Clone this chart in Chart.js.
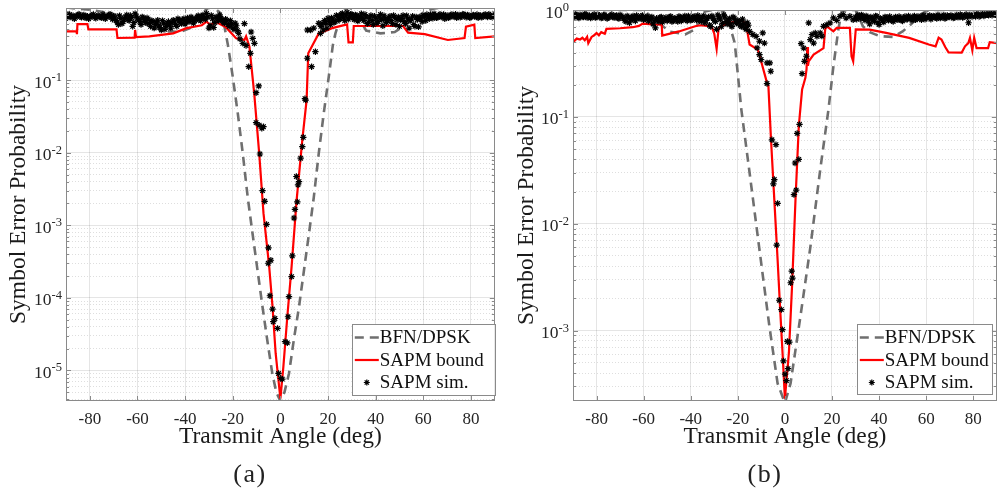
<!DOCTYPE html>
<html>
<head>
<meta charset="utf-8">
<script src="https://cdn.jsdelivr.net/npm/chart.js@4/dist/chart.umd.min.js"></script>
<style>
  body { margin: 0; width: 1002px; height: 498px; background: #fff; position: relative; overflow: hidden; }
  .panel { position: absolute; top: 0; }
  .cap { position: absolute; top: 459px; height: 26px; line-height: 26px; font: 26px "Liberation Serif", serif; letter-spacing: 1.5px; color: #222; transform: translateX(-50%); }
</style>
</head>
<body>
<div class="panel" style="left:0;width:500px;height:460px"><canvas id="chartA" width="500" height="460"></canvas></div>
<div class="panel" style="left:500px;width:502px;height:460px"><canvas id="chartB" width="502" height="460"></canvas></div>
<div class="cap" style="left:250px">(a)</div>
<div class="cap" style="left:765px">(b)</div>
<script>
// ---- axis ticks ----
const angleTicks = [-80, -60, -40, -20, 0, 20, 40, 60, 80];
const decadesA = [1e-5, 1e-4, 1e-3, 1e-2, 1e-1];
const decadesB = [1e-3, 1e-2, 1e-1, 1];

// ---- panel (a) ----
// BFN/DPSK (dashed gray)
const bfnA = [[-90,1.0],[-80,0.93],[-71,0.83],[-62,0.68],[-54,0.54],[-48,0.47],[-42,0.46],[-38,0.52],[-35,0.66],
  [-32.5,0.85],[-30.5,0.98],[-29,1.0],[-27.5,0.97],[-25.5,0.85],[-23.5,0.55],[-22,0.3],[-20,0.111],[-17.9,0.035],
  [-15.8,0.0098],[-13.7,2.4e-3],[-11.7,7.7e-4],[-9.6,2.4e-4],[-7.5,7.5e-5],[-5.5,2.6e-5],[-3.4,9.1e-6],[-1.7,5e-6],
  [0,3.8e-6],[1.7,5e-6],[3.6,9.1e-6],[5.6,2.6e-5],[7.8,7.5e-5],[9.9,2.4e-4],[12,7.7e-4],[14,2.4e-3],[16.1,0.0098],
  [18.2,0.035],[20.3,0.111],[22,0.3],[23.1,0.44],[25.8,0.83],[27.2,0.97],[29,1.0],[31,0.9],[33.5,0.67],[36,0.48],
  [42,0.44],[48,0.46],[52,0.56],[56,0.7],[60,0.85],[64,0.96],[68,1.0],[90,1.0]];

// SAPM bound (red)
const boundA = [[-90,0.47],[-85.6,0.47],[-85.4,0.43],[-85.2,0.59],[-81,0.59],[-80.6,0.50],[-68.8,0.50],[-68.4,0.38],
  [-61.2,0.385],[-61,0.49],[-60.6,0.39],[-55,0.40],[-45,0.44],[-39.4,0.52],[-33,0.57],[-31,0.64],[-29.5,0.575],
  [-27,0.63],[-23,0.54],[-18.6,0.376],[-15.1,0.357],[-14.4,0.40],[-13.0,0.288],[-11.0,0.066],[-8.9,0.0098],
  [-7.1,1.47e-3],[-4.7,2.7e-4],[-3.3,7.5e-5],[-2.0,1.73e-5],[0,4.1e-6],[1.25,1.13e-5],[2.9,5.5e-5],[4.7,2.7e-4],
  [6.8,2.2e-3],[9.2,0.015],[11.0,0.053],[11.7,0.234],[16.1,0.44],[21.7,0.52],[28,0.586],[28.6,0.33],[30.4,0.33],
  [30.8,0.556],[51.5,0.556],[53.6,0.45],[60.6,0.43],[70.3,0.357],[77.3,0.38],[77.9,0.545],[81.4,0.58],[81.8,0.38],
  [90,0.40]];

// SAPM sim. (black asterisks)
const simA_left = [[-90,0.76],[-89,0.78],[-88,0.74],[-87,0.77],[-86,0.73],[-85,0.79],[-84,0.75],[-83,0.77],[-82,0.72],
  [-81,0.76],[-80,0.74],[-79,0.78],[-78,0.73],[-77,0.76],[-76,0.75],[-75,0.72],[-74,0.77],[-73,0.74],[-72,0.79],
  [-71,0.73],[-70,0.76],[-69,0.66],[-68,0.58],[-67,0.71],[-66,0.64],[-65,0.74],[-64,0.69],[-63,0.78],[-62,0.55],
  [-61,0.82],[-60,0.70],[-59,0.64],[-58,0.74],[-57,0.67],[-56,0.72],[-55,0.60],[-54,0.66],[-53,0.52],[-52,0.63],
  [-51,0.57],[-50,0.49],[-49,0.61],[-48,0.55],[-47,0.64],[-46,0.52],[-45,0.67],[-44,0.58],[-43,0.70],[-42,0.62],
  [-41,0.68],[-40,0.59],[-39,0.72],[-38,0.64],[-37,0.70],[-36,0.66],[-35,0.74],[-34,0.68],[-33,0.76],[-32,0.71],
  [-31,0.83],[-30,0.52],[-29,0.78],[-28,0.53],[-27,0.74],[-26,0.66],[-25,0.71],[-24,0.63],[-23,0.69],[-22,0.58],
  [-21,0.66],[-20,0.52],[-19,0.61],[-18,0.48],[-17,0.37]];
const simA_leftHalf = [[-89.5,0.72],[-88.5,0.80],[-87.5,0.75],[-86.5,0.70],[-85.5,0.77],[-84.5,0.81],[-83.5,0.73],
  [-82.5,0.79],[-81.5,0.75],[-80.5,0.70],[-79.5,0.76],[-78.5,0.80],[-77.5,0.71],[-76.5,0.78],[-75.5,0.74],
  [-74.5,0.80],[-73.5,0.70],[-72.5,0.76],[-71.5,0.81],[-70.5,0.69],[-69.5,0.72],[-68.5,0.63],[-67.5,0.77],
  [-66.5,0.60],[-65.5,0.70],[-64.5,0.79],[-63.5,0.66],[-62.5,0.73],[-61.5,0.62],[-60.5,0.76],[-59.5,0.68],
  [-58.5,0.58],[-57.5,0.72],[-56.5,0.62],[-55.5,0.69],[-54.5,0.55],[-53.5,0.64],[-52.5,0.58],[-51.5,0.67],
  [-50.5,0.53],[-49.5,0.66],[-48.5,0.50],[-47.5,0.60],[-46.5,0.57],[-45.5,0.62],[-44.5,0.65],[-43.5,0.55],
  [-42.5,0.67],[-41.5,0.60],[-40.5,0.70],[-39.5,0.63],[-38.5,0.68],[-37.5,0.74],[-36.5,0.61],[-35.5,0.70],
  [-34.5,0.77],[-33.5,0.66],[-32.5,0.79],[-31.5,0.69],[-30.5,0.74],[-29.5,0.56],[-28.5,0.70],[-27.5,0.62],
  [-26.5,0.72],[-25.5,0.79],[-24.5,0.67],[-23.5,0.61],[-22.5,0.66],[-21.5,0.55],[-20.5,0.60],[-19.5,0.50],
  [-18.5,0.56],[-17.5,0.44]];
const simA_mid = [[-15.8,0.32],[-15.1,0.60],[-14.4,0.30],[-13.3,0.153],[-12.6,0.234],[-12.3,0.46],[-11.6,0.376],
  [-10.9,0.32],[-10.2,0.067],[-10.2,0.026],[-9.1,0.083],[-8.9,0.024],[-8.6,0.0096],[-7.8,0.0217],[-7.5,0.0030],
  [-7.1,0.0228],[-6.6,0.00214],[-5.8,1.03e-3],[-5.1,3.0e-4],[-5.0,4.9e-4],[-4.4,1.07e-4],[-4.0,3.3e-4],[-3.3,7.0e-5],
  [-3.0,4.7e-5],[-2.3,5.2e-5],[-1.2,3.8e-5],[-0.8,9.1e-6],[0.15,7.8e-6],[0.8,7.6e-6],[1.95,2.5e-5],[2.9,2.4e-5],
  [3.2,5.5e-5],[3.6,1.04e-4],[4.7,1.96e-4],[5.0,3.8e-4],[5.7,1.26e-3],[6.1,1.66e-3],[6.7,4.7e-3],[7.1,2.1e-3],
  [7.4,3.6e-3],[7.8,4.0e-3],[8.5,8.4e-3],[9.2,0.0121],[9.6,0.0163],[10.3,0.0555],[10.6,0.053],[11.3,0.2],
  [11.3,0.49],[12.7,0.49],[13.1,0.153],[14.0,0.52],[14.7,0.246],[16.1,0.606],[16.8,0.44]];
const simA_right = [[17,0.55],[18,0.49],[19,0.61],[20,0.71],[21,0.58],[22,0.69],[23,0.64],[24,0.75],[25,0.70],
  [26,0.83],[27,0.66],[28,0.86],[29,0.74],[30,0.80],[31,0.68],[32,0.77],[33,0.71],[34,0.82],[35,0.66],[36,0.74],
  [37,0.62],[38,0.78],[39,0.58],[40,0.72],[41,0.64],[42,0.80],[43,0.56],[44,0.70],[45,0.66],[46,0.76],[47,0.60],
  [48,0.73],[49,0.68],[50,0.55],[51,0.71],[52,0.64],[53,0.77],[54,0.52],[55,0.69],[56,0.58],[57,0.74],[58,0.54],
  [59,0.70],[60,0.78],[61,0.66],[62,0.74],[63,0.80],[64,0.71],[65,0.77],[66,0.73],[67,0.81],[68,0.75],[69,0.70],
  [70,0.78],[71,0.74],[72,0.80],[73,0.76],[74,0.72],[75,0.79],[76,0.75],[77,0.81],[78,0.73],[79,0.77],[80,0.74],
  [81,0.79],[82,0.76],[83,0.72],[84,0.78],[85,0.75],[86,0.80],[87,0.74],[88,0.77],[89,0.73],[90,0.79]];
const simA_rightHalf = [[17.5,0.60],[18.5,0.66],[19.5,0.52],[20.5,0.64],[21.5,0.72],[22.5,0.62],[23.5,0.78],
  [24.5,0.68],[25.5,0.80],[26.5,0.72],[27.5,0.77],[28.5,0.69],[29.5,0.81],[30.5,0.72],[31.5,0.79],[32.5,0.65],
  [33.5,0.76],[34.5,0.70],[35.5,0.80],[36.5,0.60],[37.5,0.72],[38.5,0.66],[39.5,0.76],[40.5,0.61],[41.5,0.74],
  [42.5,0.68],[43.5,0.77],[44.5,0.62],[45.5,0.72],[46.5,0.66],[47.5,0.78],[48.5,0.58],[49.5,0.74],[50.5,0.67],
  [51.5,0.78],[52.5,0.60],[53.5,0.70],[54.5,0.66],[55.5,0.76],[56.5,0.55],[57.5,0.68],[58.5,0.73],[59.5,0.64],
  [60.5,0.76],[61.5,0.80],[62.5,0.70],[63.5,0.75],[64.5,0.82],[65.5,0.72],[66.5,0.78],[67.5,0.74],[68.5,0.80],
  [69.5,0.76],[70.5,0.72],[71.5,0.79],[72.5,0.75],[73.5,0.81],[74.5,0.77],[75.5,0.73],[76.5,0.80],[77.5,0.76],
  [78.5,0.79],[79.5,0.72],[80.5,0.78],[81.5,0.75],[82.5,0.80],[83.5,0.77],[84.5,0.73],[85.5,0.79],[86.5,0.76],
  [87.5,0.81],[88.5,0.75],[89.5,0.78]];

// ---- panel (b) ----
const bfnB = [[-90,1.0],[-60.4,1.0],[-54.8,0.81],[-49.3,0.63],[-42.3,0.59],[-38.1,0.66],[-35.5,0.85],[-33.9,0.97],
  [-31,1.0],[-27,1.0],[-25.5,0.93],[-24.1,0.81],[-21.3,0.49],[-18.5,0.117],[-15.0,0.030],[-10.8,5.7e-3],
  [-6.6,1.1e-3],[-3.1,3.2e-4],[0,2.1e-4],[2.4,3.2e-4],[6.6,1.36e-3],[10.8,6e-3],[15.0,0.032],[18.5,0.117],
  [20.6,0.297],[22.7,0.656],[24.1,0.97],[26.2,1.0],[30,1.0],[33.2,0.70],[36,0.62],[40.2,0.57],[45.8,0.56],
  [50,0.63],[54,0.75],[58,0.92],[61.1,1.0],[90,1.0]];

const boundB = [[-90,0.50],[-89.2,0.52],[-88.4,0.54],[-87,0.53],[-86,0.55],[-85,0.52],[-84,0.56],[-83.5,0.49],
  [-82.1,0.56],[-81,0.58],[-80,0.61],[-79,0.58],[-78,0.62],[-76.5,0.60],[-75.8,0.665],[-70,0.675],[-64.6,0.69],
  [-62,0.71],[-60.4,0.746],[-56,0.735],[-52.3,0.73],[-52.1,0.576],[-45,0.63],[-38.1,0.704],[-36,0.72],[-33,0.71],
  [-31.1,0.70],[-30,0.60],[-29,0.433],[-28.2,0.66],[-27.6,0.70],[-24.1,0.75],[-21,0.78],[-18.5,0.80],[-16.5,0.74],
  [-15.0,0.475],[-11.5,0.426],[-10.1,0.331],[-7.6,0.208],[-7.0,0.193],[-5.9,0.0613],[-4.5,0.0168],[-3.1,4.6e-3],
  [-2.0,1.57e-3],[-1.0,6.2e-4],[0,2.3e-4],[1.7,6.2e-4],[3.1,2.8e-3],[4.5,0.0168],[5.9,0.0817],[7.3,0.18],
  [8.7,0.232],[9.2,0.28],[9.5,0.45],[9.8,0.30],[10.1,0.33],[12.2,0.383],[16.4,0.44],[17.1,0.656],[17.8,0.704],
  [20.6,0.632],[22.0,0.68],[27.6,0.68],[28.3,0.369],[29.0,0.331],[30.1,0.66],[36.0,0.656],[43.0,0.61],[52.8,0.548],
  [61.1,0.475],[64.0,0.457],[65.3,0.55],[66.5,0.53],[68.1,0.45],[69.5,0.402],[75.1,0.40],[76.5,0.457],[77.9,0.49],
  [78.6,0.548],[79.6,0.42],[80.4,0.548],[81.4,0.44],[86.3,0.44],[87,0.50],[90,0.49]];

const simB_left = [[-90,0.88],[-89,0.91],[-88,0.86],[-87,0.90],[-86,0.87],[-85,0.92],[-84,0.85],[-83,0.89],[-82,0.87],
  [-81,0.91],[-80,0.86],[-79,0.89],[-78,0.84],[-77,0.90],[-76,0.87],[-75,0.85],[-74,0.89],[-73,0.86],[-72,0.88],
  [-71,0.84],[-70,0.90],[-69,0.86],[-68,0.80],[-67,0.88],[-66,0.76],[-65,0.85],[-64,0.82],[-63,0.89],[-62,0.84],
  [-61,0.87],[-60,0.81],[-59,0.86],[-58,0.79],[-57,0.84],[-56,0.74],[-55,0.68],[-54,0.80],[-53,0.85],[-52,0.77],
  [-51,0.83],[-50,0.79],[-49,0.86],[-48,0.78],[-47,0.84],[-46,0.80],[-45,0.87],[-44,0.79],[-43,0.85],[-42,0.82],
  [-41,0.88],[-40,0.80],[-39,0.86],[-38,0.83],[-37,0.89],[-36,0.81],[-35,0.86],[-34,0.76],[-33,0.84],[-32,0.72],
  [-31,0.88],[-30,0.80],[-29,0.66],[-28,0.86],[-27,0.70],[-26,0.90],[-25,0.78],[-24,0.81],[-23,0.74],[-22,0.86],
  [-21,0.77],[-20,0.80],[-19,0.72],[-18,0.82],[-17,0.68],[-16,0.76],[-15,0.63]];
const simB_leftHalf = [[-89.5,0.86],[-88.5,0.90],[-87.5,0.84],[-86.5,0.89],[-85.5,0.86],[-84.5,0.91],[-83.5,0.87],
  [-82.5,0.84],[-81.5,0.89],[-80.5,0.85],[-79.5,0.91],[-78.5,0.87],[-77.5,0.85],[-76.5,0.90],[-75.5,0.83],
  [-74.5,0.87],[-73.5,0.91],[-72.5,0.85],[-71.5,0.89],[-70.5,0.83],[-69.5,0.88],[-68.5,0.84],[-67.5,0.78],
  [-66.5,0.86],[-65.5,0.81],[-64.5,0.88],[-63.5,0.79],[-62.5,0.86],[-61.5,0.83],[-60.5,0.89],[-59.5,0.83],
  [-58.5,0.87],[-57.5,0.81],[-56.5,0.86],[-55.5,0.79],[-54.5,0.84],[-53.5,0.78],[-52.5,0.86],[-51.5,0.80],
  [-50.5,0.85],[-49.5,0.81],[-48.5,0.87],[-47.5,0.79],[-46.5,0.83],[-45.5,0.78],[-44.5,0.86],[-43.5,0.81],
  [-42.5,0.88],[-41.5,0.79],[-40.5,0.84],[-39.5,0.81],[-38.5,0.87],[-37.5,0.80],[-36.5,0.85],[-35.5,0.78],
  [-34.5,0.88],[-33.5,0.80],[-32.5,0.86],[-31.5,0.70],[-30.5,0.84],[-29.5,0.78],[-28.5,0.90],[-27.5,0.82],
  [-26.5,0.75],[-25.5,0.86],[-24.5,0.74],[-23.5,0.83],[-22.5,0.70],[-21.5,0.84],[-20.5,0.75],[-19.5,0.78],
  [-18.5,0.70],[-17.5,0.74],[-16.5,0.66],[-15.5,0.72]];
const simB_mid = [[-13.6,0.589],[-12.2,0.567],[-11.8,0.442],[-10.8,0.51],[-10.8,0.383],[-10.1,0.344],[-9.4,0.61],
  [-8.7,0.49],[-7.6,0.32],[-7.6,0.205],[-6.4,0.32],[-6.0,0.267],[-5.5,0.061],[-4.9,0.0236],[-4.5,0.0259],
  [-3.8,0.055],[-3.5,6.3e-3],[-3.1,0.0155],[-2.4,1.92e-3],[-1.5,1.57e-3],[-1.05,1.02e-3],[-0.6,5.2e-4],
  [0.08,3.9e-4],[0.63,3.4e-4],[1.05,7.9e-4],[1.33,4.4e-4],[1.9,7.8e-4],[2.45,2.8e-3],[2.9,3.6e-3],[3.2,3.1e-3],
  [3.85,0.0187],[4.3,0.037],[4.8,0.0206],[5.2,0.07],[5.9,0.04],[6.2,0.085],[6.9,0.485],[7.3,0.254],[8.0,0.44],
  [8.3,0.331],[9.1,0.369],[10.1,0.757],[10.8,0.529],[11.5,0.589],[12.2,0.49],[12.9,0.61],[13.6,0.567],[15.0,0.61],
  [15.7,0.57],[16.4,0.704],[17.8,0.73],[19.2,0.757],[20.6,0.843],[22,0.80],[23.4,0.873],[24.8,0.906],[26,0.84],
  [27.6,0.873],[29.0,0.81]];
const simB_right = [[30,0.86],[31,0.90],[32,0.83],[33,0.88],[34,0.80],[35,0.86],[36,0.74],[37,0.84],[38,0.78],
  [39,0.87],[40,0.73],[41,0.82],[42,0.77],[43,0.85],[44,0.80],[45,0.83],[46,0.78],[47,0.86],[48,0.81],[49,0.84],
  [50,0.79],[51,0.87],[52,0.82],[53,0.85],[54,0.80],[55,0.88],[56,0.83],[57,0.86],[58,0.81],[59,0.89],[60,0.84],
  [61,0.87],[62,0.82],[63,0.88],[64,0.85],[65,0.90],[66,0.84],[67,0.87],[68,0.83],[69,0.89],[70,0.86],[71,0.88],
  [72,0.85],[73,0.90],[74,0.86],[75,0.89],[76,0.87],[77,0.91],[78,0.76],[79,0.88],[80,0.90],[81,0.87],[82,0.91],
  [83,0.88],[84,0.92],[85,0.89],[86,0.90],[87,0.93],[88,0.89],[89,0.91],[90,0.90]];
const simB_rightHalf = [[30.5,0.82],[31.5,0.87],[32.5,0.90],[33.5,0.84],[34.5,0.88],[35.5,0.79],[36.5,0.86],
  [37.5,0.81],[38.5,0.88],[39.5,0.76],[40.5,0.84],[41.5,0.79],[42.5,0.86],[43.5,0.82],[44.5,0.87],[45.5,0.80],
  [46.5,0.84],[47.5,0.82],[48.5,0.87],[49.5,0.80],[50.5,0.85],[51.5,0.82],[52.5,0.88],[53.5,0.83],[54.5,0.86],
  [55.5,0.81],[56.5,0.87],[57.5,0.84],[58.5,0.88],[59.5,0.82],[60.5,0.86],[61.5,0.89],[62.5,0.85],[63.5,0.87],
  [64.5,0.83],[65.5,0.88],[66.5,0.86],[67.5,0.90],[68.5,0.85],[69.5,0.87],[70.5,0.89],[71.5,0.84],[72.5,0.88],
  [73.5,0.86],[74.5,0.91],[75.5,0.85],[76.5,0.89],[77.5,0.86],[78.5,0.90],[79.5,0.87],[80.5,0.89],[81.5,0.92],
  [82.5,0.87],[83.5,0.90],[84.5,0.88],[85.5,0.92],[86.5,0.89],[87.5,0.91],[88.5,0.93],[89.5,0.90]];

const SERIF = '"Liberation Serif", "Times New Roman", serif';
const toXY = (pairs) => pairs.map(p => ({x: p[0], y: p[1]}));
const isDecade = (v) => Math.abs(Math.log10(v) - Math.round(Math.log10(v))) < 1e-6;

// minor + major ticks for a log axis
const logTicks = (decades, min, max) => {
  const out = [];
  const lo = Math.floor(Math.log10(min)), hi = Math.ceil(Math.log10(max));
  for (let e = lo; e <= hi; e++) {
    for (let m = 1; m <= 9; m++) {
      const v = m * Math.pow(10, e);
      if (v >= min && v <= max) out.push({value: v});
    }
  }
  return out;
};

// box, inner tick marks, 10^n labels and the in-plot legend
const framePlugin = {
  id: 'frame',
  afterDraw(chart, args, opts) {
    const {ctx, chartArea: a, scales} = chart;
    ctx.save();
    ctx.strokeStyle = '#8a8a8a';
    ctx.lineWidth = 1;
    ctx.beginPath();
    scales.x.ticks.forEach(t => {
      const px = Math.round(scales.x.getPixelForValue(t.value)) + 0.5;
      ctx.moveTo(px, a.bottom); ctx.lineTo(px, a.bottom - 5);
      ctx.moveTo(px, a.top); ctx.lineTo(px, a.top + 5);
    });
    scales.y.ticks.forEach(t => {
      const py = Math.round(scales.y.getPixelForValue(t.value)) + 0.5;
      const len = isDecade(t.value) ? 5 : 3;
      ctx.moveTo(a.left, py); ctx.lineTo(a.left + len, py);
      ctx.moveTo(a.right, py); ctx.lineTo(a.right - len, py);
    });
    ctx.stroke();
    ctx.strokeRect(Math.round(a.left) + 0.5, Math.round(a.top) + 0.5, Math.round(a.width) - 1, Math.round(a.height) - 1);

    // y tick labels as 10 with a raised exponent
    ctx.fillStyle = '#262626';
    ctx.textBaseline = 'alphabetic';
    ctx.textAlign = 'right';
    scales.y.ticks.forEach(t => {
      if (!isDecade(t.value)) return;
      const py = scales.y.getPixelForValue(t.value);
      const exp = String(Math.round(Math.log10(t.value)));
      const xr = a.left - 4;
      ctx.font = '12.5px ' + SERIF;
      ctx.fillText(exp, xr, py + 1);
      const w = ctx.measureText(exp).width;
      ctx.font = '17.5px ' + SERIF;
      ctx.fillText('10', xr - w, py + 7.5);
    });

    // legend
    const L = opts.box;
    const bx = a.right - L.right - L.width, by = a.bottom - L.bottom - L.height;
    ctx.fillStyle = '#fff';
    ctx.fillRect(bx, by, L.width, L.height);
    ctx.strokeStyle = '#8a8a8a';
    ctx.strokeRect(Math.round(bx) + 0.5, Math.round(by) + 0.5, L.width, L.height);
    const rows = [13.5, 36, 58.5];
    ctx.font = '19px ' + SERIF;
    ctx.textBaseline = 'middle';
    ctx.textAlign = 'left';
    chart.data.datasets.forEach((ds, i) => {
      const y = by + rows[i];
      const x0 = bx + 3, x1 = bx + 27;
      if (ds.showLine) {
        ctx.strokeStyle = ds.borderColor;
        ctx.lineWidth = ds.borderWidth;
        ctx.setLineDash(ds.borderDash || []);
        ctx.beginPath(); ctx.moveTo(x0, y); ctx.lineTo(x1, y); ctx.stroke();
        ctx.setLineDash([]);
      } else {
        const cx = (x0 + x1) / 2, r = 3;
        ctx.strokeStyle = '#000';
        ctx.lineWidth = 1.2;
        ctx.beginPath();
        ctx.moveTo(cx - r, y); ctx.lineTo(cx + r, y);
        ctx.moveTo(cx, y - r); ctx.lineTo(cx, y + r);
        ctx.moveTo(cx - r * 0.7, y - r * 0.7); ctx.lineTo(cx + r * 0.7, y + r * 0.7);
        ctx.moveTo(cx - r * 0.7, y + r * 0.7); ctx.lineTo(cx + r * 0.7, y - r * 0.7);
        ctx.stroke();
      }
      ctx.fillStyle = '#111';
      ctx.fillText(ds.label, bx + 28, y + 1);
    });
    ctx.restore();
  }
};

const buildChart = (canvasId, p) => new Chart(document.getElementById(canvasId), {
  type: 'scatter',
  data: {
    datasets: [
      {label: 'BFN/DPSK', data: toXY(p.bfn), showLine: true, borderColor: '#6f6f6f', borderWidth: 2.6,
        borderDash: [9, 6], pointRadius: 0, order: 3},
      {label: 'SAPM bound', data: toXY(p.bound), showLine: true, borderColor: '#ff0000', borderWidth: 2.2,
        pointRadius: 0, order: 2},
      {label: 'SAPM sim.', data: toXY(p.sim), showLine: false, pointStyle: 'star', pointRadius: 3.2,
        borderColor: '#000', backgroundColor: '#000', borderWidth: 1.2, order: 1},
    ],
  },
  options: {
    responsive: false,
    animation: false,
    events: [],
    layout: {padding: {left: 0, right: p.padRight, top: p.padTop, bottom: 0}},
    plugins: {legend: {display: false}, tooltip: {enabled: false}, frame: {box: p.legendBox}},
    scales: {
      x: {
        type: 'linear', min: -90, max: 90,
        afterBuildTicks: (s) => { s.ticks = angleTicks.map(v => ({value: v})); },
        afterFit: (s) => { s.height = 59; s.paddingLeft = 0; s.paddingRight = 0; },
        ticks: {font: {family: SERIF, size: 17}, color: '#262626', padding: 8, maxRotation: 0,
          callback: (v) => String(v)},
        grid: {color: 'rgba(0,0,0,0.10)', drawTicks: false},
        border: {display: false},
        title: {display: true, text: 'Transmit Angle (deg)', font: {family: SERIF, size: 23.5}, color: '#1a1a1a',
          padding: {top: 0, bottom: 9}},
      },
      y: {
        type: 'logarithmic', min: p.ymin, max: p.ymax,
        afterBuildTicks: (s) => { s.ticks = logTicks(p.decades, p.ymin, p.ymax); },
        afterFit: (s) => { s.width = p.yWidth; s.paddingTop = 0; s.paddingBottom = 0; },
        ticks: {display: false, autoSkip: false},
        grid: {drawTicks: false,
          color: (c) => (c.tick && isDecade(c.tick.value)) ? 'rgba(0,0,0,0.10)' : 'rgba(0,0,0,0.13)'},
        border: {display: false,
          dash: (c) => (c.tick && !isDecade(c.tick.value)) ? [1, 2] : []},
        title: {display: true, text: 'Symbol Error Probability', font: {family: SERIF, size: 23.5}, color: '#1a1a1a',
          padding: {top: p.yTitlePad, bottom: 0}},
      },
    },
  },
  plugins: [framePlugin],
});

buildChart('chartA', {
  bfn: bfnA, bound: boundA, sim: simA_left.concat(simA_leftHalf, simA_mid, simA_right, simA_rightHalf),
  decades: decadesA, ymin: 3.8e-6, ymax: 0.984,
  yWidth: 66, yTitlePad: 5, padTop: 8, padRight: 2,
  legendBox: {right: 0, bottom: 6, width: 143, height: 71},
});
buildChart('chartB', {
  bfn: bfnB, bound: boundB, sim: simB_left.concat(simB_leftHalf, simB_mid, simB_right, simB_rightHalf),
  decades: decadesB, ymin: 2.19e-4, ymax: 1,
  yWidth: 73, yTitlePad: 13, padTop: 10, padRight: 1,
  legendBox: {right: 5, bottom: 7, width: 135, height: 70},
});
</script>
</body>
</html>
